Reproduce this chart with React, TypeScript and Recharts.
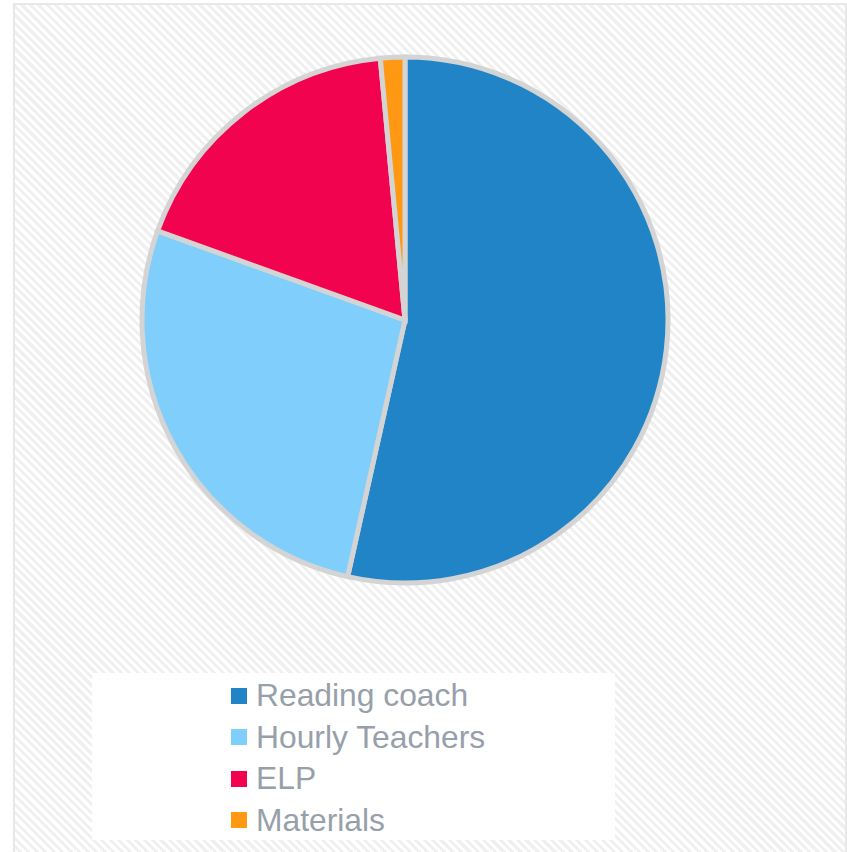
import React from "react";
import { PieChart, Pie, Cell, Legend } from "recharts";

const categories = ["Reading coach", "Hourly Teachers", "ELP", "Materials"];
const values = [53.5, 27, 18, 1.5];
const colors = ["#2184C6", "#7FCEFC", "#F2034F", "#FF9812"];

const data = categories.map((name, i) => ({ name, value: values[i] }));

const LegendBox = () => (
  <div
    style={{
      width: 523,
      height: 167,
      background: "#ffffff",
      boxSizing: "border-box",
      paddingLeft: 139,
      paddingTop: 2,
    }}
  >
    {data.map((d, i) => (
      <div
        key={d.name}
        style={{
          display: "flex",
          alignItems: "center",
          height: 41.5,
          fontFamily: "'Liberation Sans', Arial, sans-serif",
          fontSize: 31.8,
          color: "#97A0AA",
          whiteSpace: "nowrap",
        }}
      >
        <span
          style={{
            display: "inline-block",
            width: 16,
            height: 16,
            background: colors[i],
            marginRight: 9,
          }}
        />
        {d.name}
      </div>
    ))}
  </div>
);

export default function App() {
  return (
    <div
      style={{
        position: "absolute",
        left: 0,
        top: 0,
        width: 847,
        height: 852,
        background: "#ffffff",
      }}
    >
      <style>{`body{margin:0}`}</style>
      <div
        style={{
          position: "absolute",
          left: 13,
          top: 3,
          width: 834,
          height: 852,
          boxSizing: "border-box",
          border: "2px solid #e8e8e8",
          background:
            "repeating-linear-gradient(45deg, #ffffff 0px, #ffffff 3px, #f0f0f0 3px, #f0f0f0 6px)",
        }}
      />
      <div style={{ position: "absolute", left: 0, top: 0 }}>
        <style>{`.recharts-pie-sectors{filter:drop-shadow(0px 0px 6px rgba(0,0,0,0.25));}`}</style>
        <PieChart width={847} height={852} margin={{ top: 0, right: 0, bottom: 0, left: 0 }}>
          <Pie
            data={data}
            dataKey="value"
            nameKey="name"
            cx={405}
            cy={320}
            outerRadius={263}
            startAngle={90}
            endAngle={-270}
            stroke="#d4d4d4"
            strokeWidth={5}
            isAnimationActive={false}
          >
            {data.map((d, i) => (
              <Cell key={d.name} fill={colors[i]} />
            ))}
          </Pie>
          <Legend
            content={<LegendBox />}
            wrapperStyle={{ position: "absolute", left: 92, top: 673, width: 523, height: 167 }}
          />
        </PieChart>
      </div>
    </div>
  );
}
